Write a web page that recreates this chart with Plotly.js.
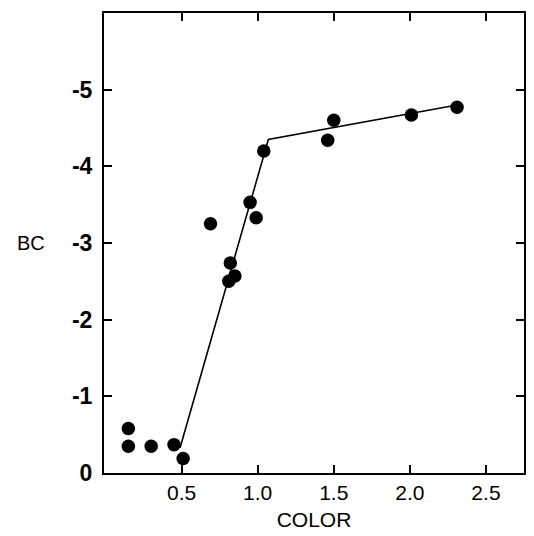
<!DOCTYPE html>
<html><head><meta charset="utf-8">
<script src="https://cdn.plot.ly/plotly-3.0.1.min.js"></script>
<style>html,body{margin:0;padding:0;background:#fff;}#chart{width:534px;height:536px;}</style>
</head><body><div id="chart"></div>
<script>
const colorVals = [0.15, 0.15, 0.30, 0.45, 0.51, 0.69, 0.95, 0.99, 0.82, 0.85, 0.81, 1.04, 1.46, 1.50, 2.01, 2.31];
const bcVals    = [-0.58, -0.35, -0.35, -0.37, -0.19, -3.25, -3.53, -3.33, -2.74, -2.57, -2.50, -4.20, -4.34, -4.60, -4.67, -4.77];
const fitColor = [0.49, 1.07, 2.31];
const fitBC    = [-0.33, -4.35, -4.80];
const xTickVals = [0.5, 1.0, 1.5, 2.0, 2.5];
const xTickText = ["0.5", "1.0", "1.5", "2.0", "2.5"];
const yTickVals = [0, -1, -2, -3, -4, -5];
const yTickText = ["0", "-1", "-2", "-3", "-4", "-5"];

const font = "Liberation Sans, Arial, sans-serif";
const data = [
  {x: fitColor, y: fitBC, mode: 'lines', line: {color: '#000', width: 1.6}, hoverinfo: 'skip'},
  {x: colorVals, y: bcVals, mode: 'markers', marker: {color: '#000', size: 13.5}}
];
const layout = {
  width: 534, height: 536,
  margin: {l: 104, r: 10, t: 13, b: 63},
  paper_bgcolor: '#fff', plot_bgcolor: '#fff',
  showlegend: false,
  font: {family: font, color: '#000'},
  xaxis: {
    range: [-0.01, 2.75], showgrid: false, zeroline: false,
    showline: true, linecolor: '#000', linewidth: 2, mirror: 'ticks',
    ticks: 'inside', ticklen: 8, tickwidth: 2, tickcolor: '#000',
    tickmode: 'array', tickvals: xTickVals, ticktext: xTickText,
    tickfont: {size: 21, family: font},
    title: {text: 'COLOR', font: {size: 21, family: font}, standoff: 9}
  },
  yaxis: {
    range: [0, -6], showgrid: false, zeroline: false,
    showline: true, linecolor: '#000', linewidth: 2, mirror: 'ticks',
    ticks: 'inside', ticklen: 8, tickwidth: 2, tickcolor: '#000',
    tickmode: 'array', tickvals: yTickVals, ticktext: yTickText,
    ticklabelstandoff: 5,
    tickfont: {size: 23, family: font, weight: 'bold'}
  },
  annotations: [{
    text: 'BC', xref: 'paper', yref: 'paper', x: -0.173, y: 0.5,
    xanchor: 'center', yanchor: 'middle', showarrow: false,
    font: {size: 20, family: font}
  }]
};
Plotly.newPlot('chart', data, layout, {displayModeBar: false, staticPlot: true});
</script></body></html>
